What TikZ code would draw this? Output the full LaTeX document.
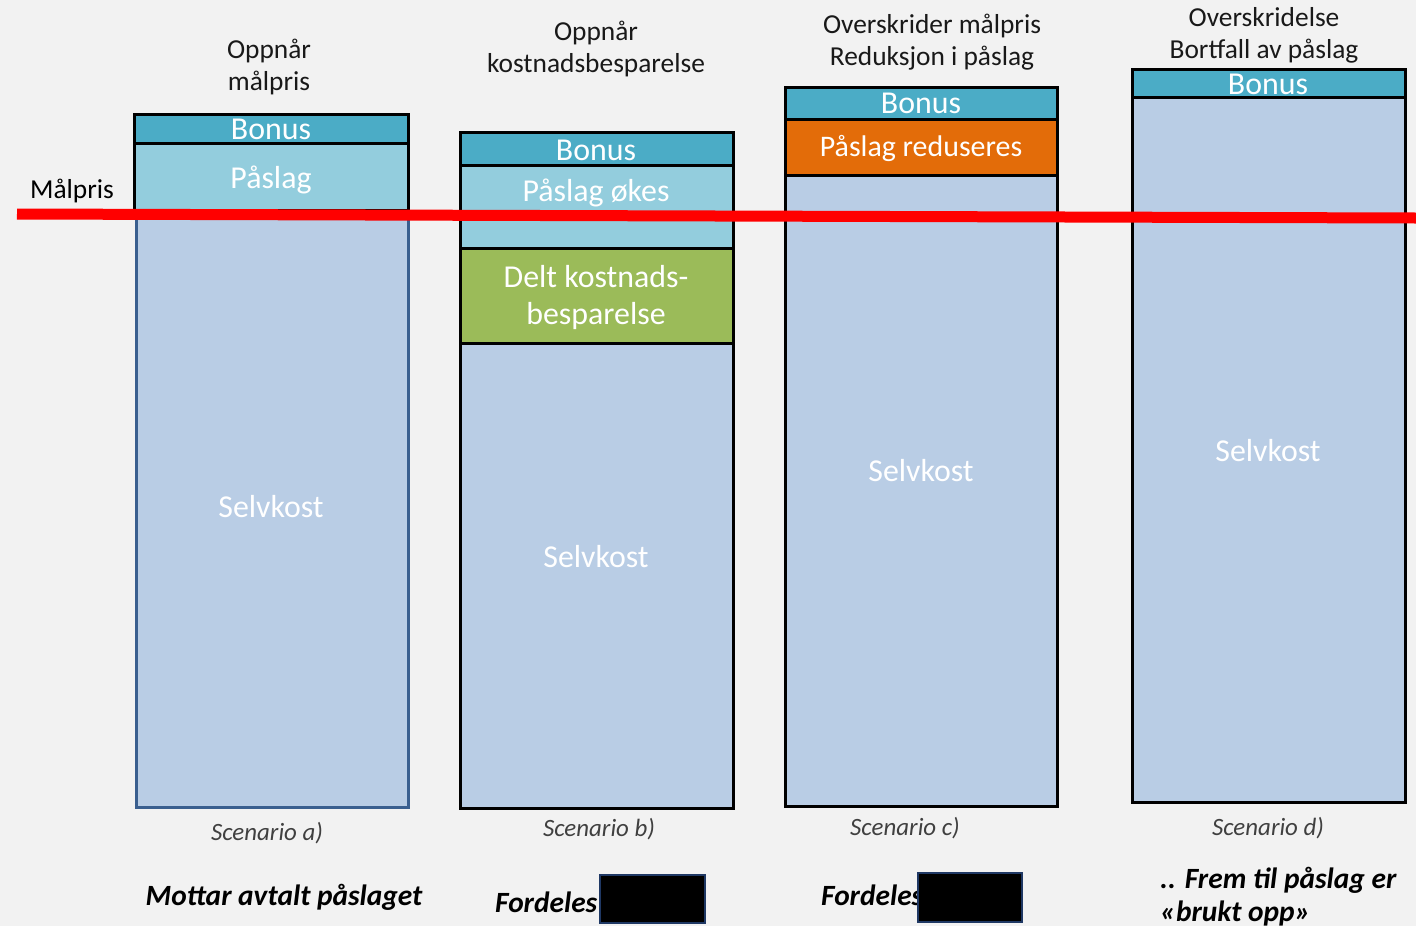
\documentclass[tikz,border=0pt]{standalone}
\usepackage{fontspec}
\setmainfont{Carlito}
\definecolor{bgc}{HTML}{F2F2F2}
\definecolor{bonusc}{HTML}{4BACC6}
\definecolor{paslagc}{HTML}{93CDDD}
\definecolor{greenc}{HTML}{9BBB59}
\definecolor{orangec}{HTML}{E36C09}
\definecolor{selvc}{HTML}{B9CDE5}
\definecolor{selvborder}{HTML}{3A5F8F}
\definecolor{navyc}{HTML}{1F3864}
\definecolor{redc}{HTML}{FF0000}
\begin{document}
\begin{tikzpicture}[x=1bp,y=-1bp,
  bline/.style={draw=black, line width=3bp},
  boxtxt/.style={text=white, font=\fontsize{32}{37}\selectfont, inner sep=0pt, anchor=base, align=center},
  head/.style={font=\fontsize{27.5}{31.5}\selectfont, inner sep=0pt, anchor=base, align=center, text=black!90},
  scen/.style={font=\itshape\fontsize{25}{28}\selectfont, inner sep=0pt, anchor=base, text=black!75},
  note/.style={font=\bfseries\itshape\fontsize{29.5}{33}\selectfont, inner sep=0pt, anchor=base, text=black},
  hidebox/.style={fill=black, draw=navyc, line width=1.5bp}]
\useasboundingbox (0,0) rectangle (1416,926);
\fill[bgc] (0,0) rectangle (1416,926);

% Bar a
\draw[line width=3bp, draw=selvborder, fill=selvc] (136,211) rectangle (408,807);
\draw[bline, fill=paslagc] (134,143) rectangle (408,210);
\draw[bline, fill=bonusc] (134,114) rectangle (408,143);
\node[boxtxt] (abonus) at (271,139) {Bonus};
\node[boxtxt] (apaslag) at (271,188) {Påslag};
\node[boxtxt] (aselv) at (271,517) {Selvkost};

% Bar b
\draw[bline, fill=selvc] (460,343) rectangle (733,808);
\draw[bline, fill=greenc] (460,248) rectangle (733,343);
\draw[bline, fill=paslagc] (460,165) rectangle (733,248);
\draw[bline, fill=bonusc] (460,132) rectangle (733,165);
\node[boxtxt] (bbonus) at (596,160) {Bonus};
\node[boxtxt] (bpaslag) at (596,201) {Påslag økes};
\node[boxtxt] (bdelt) at (596,324) {Delt kostnads-\\besparelse};
\node[boxtxt] (bselv) at (596,567) {Selvkost};

% Bar c
\draw[bline, fill=selvc] (785,175) rectangle (1057,806);
\draw[bline, fill=orangec] (785,119) rectangle (1057,175);
\draw[bline, fill=bonusc] (785,87) rectangle (1057,119);
\node[boxtxt] (cbonus) at (921,113) {Bonus};
\node[boxtxt, font=\fontsize{30}{36}\selectfont] (cpaslag) at (921,156) {Påslag reduseres};
\node[boxtxt] (cselv) at (921,481) {Selvkost};

% Bar d
\draw[bline, fill=selvc] (1132,97) rectangle (1405,802);
\draw[bline, fill=bonusc] (1132,69) rectangle (1405,97);
\node[boxtxt] (dbonus) at (1268,94) {Bonus};
\node[boxtxt] (dselv) at (1268,461) {Selvkost};

% Target price line
\coordinate (mstart) at (17,214);
\coordinate (mend) at (1416,218);
\draw[redc, line width=11bp] (mstart) -- (mend);
\node[head, text=black] (malpris) at (72,198) {Målpris};

% Headers (anchor = baseline of last line)
\node[head] (ha) at (269,90) {Oppnår\\målpris};
\node[head] (hb) at (596,72) {Oppnår\\kostnadsbesparelse};
\node[head] (hc) at (932,65) {Overskrider målpris\\Reduksjon i påslag};
\node[head] (hd) at (1264,58) {Overskridelse\\Bortfall av påslag};

% Scenario labels
\node[scen] (sa) at (267,840) {Scenario a)};
\node[scen] (sb) at (599,836) {Scenario b)};
\node[scen] (sc) at (905,835) {Scenario c)};
\node[scen] (sd) at (1268,835) {Scenario d)};

% Bottom notes
\node[note] (na) at (284,905) {Mottar avtalt påslaget};
\node[note, anchor=base west] (nb) at (495,912) {Fordeles};
\draw[hidebox] (600,875) rectangle (705,923);
\node[note, anchor=base west] (nc) at (821,905) {Fordeles};
\draw[hidebox] (918,873) rectangle (1022,922);
\node[note, anchor=base west, align=left] (nd) at (1160,921) {.. Frem til påslag er\\«brukt opp»};
\end{tikzpicture}
\end{document}
